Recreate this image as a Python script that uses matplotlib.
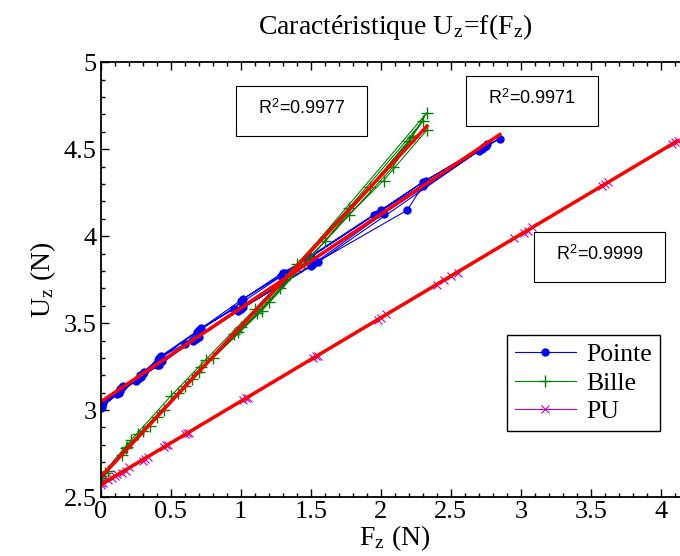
import numpy as np
import matplotlib.pyplot as plt
from matplotlib.patches import Rectangle
from matplotlib.ticker import MultipleLocator

plt.rcParams['font.family'] = ['Liberation Serif', 'DejaVu Serif']
plt.rcParams['mathtext.fontset'] = 'stix'

# Pointe : several load / unload cycles
fz_pointe = [0.00, 0.15, 0.30, 0.42, 0.60, 0.72, 0.95, 1.02, 1.30, 1.50, 1.95, 2.30, 2.75, 2.85,
             2.74, 2.30, 2.19, 1.52, 1.28, 1.00, 0.68, 0.42, 0.25, 0.13, 0.00,
             0.02, 0.16, 0.28, 0.43, 0.70, 1.00, 1.32, 2.00, 2.32, 2.76,
             2.72, 2.02, 1.50, 0.98, 0.66, 0.40, 0.27, 0.14, 0.00,
             0.01, 0.14, 0.31, 0.41, 0.69, 1.01, 1.29, 1.97, 2.31, 2.74,
             2.70, 1.55, 1.02, 0.70, 0.44, 0.29, 0.12, 0.01]
uz_pointe = [3.03, 3.13, 3.21, 3.30, 3.38, 3.47, 3.58, 3.64, 3.79, 3.88, 4.12, 4.31, 4.52, 4.56,
             4.51, 4.29, 4.15, 3.84, 3.72, 3.58, 3.41, 3.26, 3.17, 3.10, 3.02,
             3.04, 3.14, 3.20, 3.31, 3.46, 3.63, 3.79, 4.15, 4.32, 4.53,
             4.50, 4.13, 3.83, 3.57, 3.40, 3.26, 3.18, 3.11, 3.01,
             3.03, 3.12, 3.22, 3.29, 3.45, 3.62, 3.77, 4.13, 4.30, 4.51,
             4.49, 3.85, 3.59, 3.42, 3.28, 3.19, 3.09, 3.02]

# Bille
fz_bille = [0.00, 0.19, 0.27, 0.55, 0.72, 0.98, 1.12, 1.28, 1.45, 1.77, 2.02, 2.33,
            2.23, 1.92, 1.77, 1.40, 1.10, 0.75, 0.50, 0.22, 0.00,
            0.03, 0.30, 0.60, 0.95, 1.35, 2.33,
            2.09, 1.50, 1.15, 0.70, 0.40, 0.18, 0.00,
            0.05, 0.35, 0.65, 1.00, 1.42, 2.30,
            2.20, 1.60, 1.20, 0.80, 0.45, 0.15, 0.01]
uz_bille = [2.61, 2.79, 2.86, 3.10, 3.25, 3.45, 3.56, 3.70, 3.84, 4.12, 4.32, 4.61,
            4.57, 4.28, 4.16, 3.84, 3.58, 3.29, 3.08, 2.83, 2.62,
            2.64, 2.88, 3.14, 3.44, 3.78, 4.71,
            4.40, 3.88, 3.57, 3.22, 2.96, 2.78, 2.60,
            2.65, 2.91, 3.18, 3.48, 3.83, 4.66,
            4.55, 3.97, 3.62, 3.30, 3.00, 2.74, 2.61]

# PU
fz_pu = [0.00, 0.05, 0.10, 0.15, 0.30, 0.45, 0.62, 1.02, 1.52, 2.00, 2.40, 2.50, 2.95, 3.05, 3.60, 4.10,
         4.08, 3.58, 3.02, 2.45, 1.98, 1.55, 1.05, 0.60, 0.47, 0.32, 0.18, 0.08, 0.00,
         0.02, 0.12, 0.20, 0.34, 0.48, 0.63, 1.04, 1.54, 2.04, 2.55, 3.08, 3.62, 4.12]
uz_pu = [2.57, 2.60, 2.62, 2.64, 2.71, 2.79, 2.87, 3.06, 3.30, 3.53, 3.72, 3.77, 3.99, 4.03, 4.30, 4.54,
         4.53, 4.29, 4.02, 3.75, 3.52, 3.31, 3.07, 2.86, 2.80, 2.72, 2.65, 2.61, 2.58,
         2.58, 2.63, 2.67, 2.73, 2.80, 2.87, 3.07, 3.31, 3.55, 3.79, 4.05, 4.31, 4.55]

r2_labels = ['0.9977', '0.9971', '0.9999']
x_ticklabels = ['0', '0.5', '1', '1.5', '2', '2.5', '3', '3.5', '4']
y_ticklabels = ['2.5', '3', '3.5', '4', '4.5', '5']

fig = plt.figure(figsize=(6.8, 5.56), dpi=100)
ax = fig.add_axes([0.148, 0.106, 0.867, 0.782])

ax.plot(fz_pointe, uz_pointe, '-o', color='b', lw=0.8, ms=5, label='Pointe')
ax.plot(fz_bille, uz_bille, '-+', color='g', lw=0.8, ms=8, mew=1, label='Bille')
ax.plot(fz_pu, uz_pu, '-x', color='m', lw=0.8, ms=6, mew=0.8, label='PU')

# linear fits
for fz, uz in [(fz_pointe, uz_pointe), (fz_bille, uz_bille), (fz_pu, uz_pu)]:
    p = np.polyfit(fz, uz, 1)
    xf = np.array([0, max(fz)])
    ax.plot(xf, np.polyval(p, xf), color='r', lw=2.5)

ax.set_xlim(0, 4.21)
ax.set_ylim(2.5, 5)
ax.set_xticks(np.arange(0, 4.01, 0.5))
ax.set_xticklabels(x_ticklabels)
ax.set_yticks(np.arange(2.5, 5.01, 0.5))
ax.set_yticklabels(y_ticklabels)
ax.xaxis.set_minor_locator(MultipleLocator(0.1))
ax.yaxis.set_minor_locator(MultipleLocator(0.1))
ax.tick_params(which='both', direction='in', top=True, right=True, labelsize=19, width=1)
ax.tick_params(which='major', length=6, pad=3)
ax.tick_params(which='minor', length=3)
for s in ax.spines.values():
    s.set_linewidth(1.3)

ax.set_title(r'Caractéristique U$_\mathregular{z}$=f(F$_\mathregular{z}$)', fontsize=20, pad=20)
ax.set_xlabel(r'F$_\mathregular{z}$ (N)', fontsize=20, labelpad=0)
ax.set_ylabel(r'U$_\mathregular{z}$ (N)', fontsize=20, labelpad=4)

# R^2 boxes
boxes = [(0.229, 0.830), (0.6205, 0.853), (0.735, 0.4936)]
for (bx, by), r2 in zip(boxes, r2_labels):
    ax.add_patch(Rectangle((bx, by), 0.223, 0.116, transform=ax.transAxes,
                           fill=False, ec='black', lw=0.8, clip_on=False))
    ax.text(bx + 0.1115, by + 0.064, r'R$^\mathregular{2}$=' + r2, transform=ax.transAxes,
            ha='center', va='center', fontsize=13, family='Liberation Sans')

leg = ax.legend(loc='upper left', bbox_to_anchor=(0.689, 0.372), borderaxespad=0,
                fontsize=18.5, handlelength=2.4, labelspacing=0.22, fancybox=False,
                edgecolor='black', framealpha=1, borderpad=0.3, handletextpad=0.4)
leg.get_frame().set_linewidth(1)

fig.savefig('out.png', dpi=100)
